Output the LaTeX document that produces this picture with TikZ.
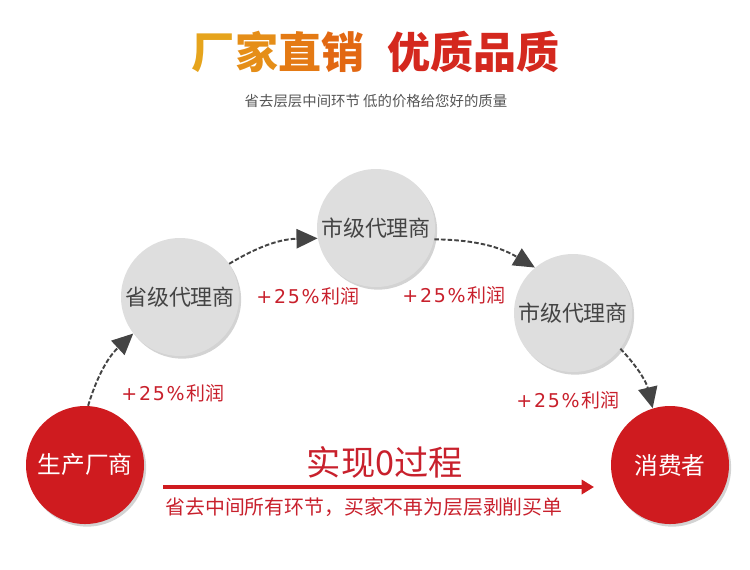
\documentclass[tikz,border=0pt]{standalone}
\usepackage{fontspec}
\setmainfont{Noto Sans CJK SC}
\newfontfamily\profitfont[LetterSpace=9]{DejaVu Sans}
\usepackage{tikz}
\usetikzlibrary{arrows.meta, positioning, shadows}
\definecolor{cRed}{RGB}{207,27,31}
\definecolor{cText}{RGB}{200,32,44}
\definecolor{cGrey}{RGB}{222,222,222}
\definecolor{cDark}{RGB}{68,68,68}
\definecolor{cSub}{RGB}{85,85,85}
\definecolor{cOrA}{RGB}{230,164,28}
\definecolor{cOrB}{RGB}{229,142,24}
\definecolor{cOrC}{RGB}{228,122,20}
\definecolor{cOrD}{RGB}{226,104,18}
\definecolor{cTitle}{RGB}{212,40,30}
\newcommand{\gain}{{\profitfont +25\%\kern0.1em}利润}
\tikzset{
	agent/.style   ={circle, minimum size=118*0.02cm, inner sep=0pt, fill=cGrey, text=cDark, font=\fontsize{12.5}{14}\selectfont, drop shadow={shadow xshift=1.2pt, shadow yshift=-1.5pt, opacity=0.35}},
	endpt/.style   ={circle, minimum size=118*0.02cm, inner sep=0pt, fill=cRed, text=white, font=\fontsize{13.5}{15}\selectfont, drop shadow={shadow xshift=1.2pt, shadow yshift=-1.5pt, opacity=0.35}},
	flowdash/.style={-{Triangle[length=12pt, width=11pt]}, cDark, line width=1.1pt, dash pattern=on 2.6pt off 1.2pt, bend left=15},
	profit/.style  ={text=cText, font=\fontsize{10.8}{12}\selectfont},
	redarrow/.style={-{Triangle[length=7pt, width=8pt]}, cRed, line width=2.2pt},
}
\begin{document}
\begin{tikzpicture}[x=0.02cm, y=-0.02cm]
	\useasboundingbox (0,0) rectangle (750,569);
	% title
	\node[font=\fontsize{24.5}{28}\bfseries] (title) at (376,52) {\textcolor{cOrA}{厂}\textcolor{cOrB}{家}\textcolor{cOrC}{直}\textcolor{cOrD}{销}\hspace{0.55em}\textcolor{cTitle}{优质品质}};
	\node[text=cSub, font=\fontsize{8.2}{10}\selectfont] (sub) at (376,101) {省去层层中间环节 低的价格给您好的质量};
	% chain
	\node[endpt] (maker) at (85,465) {生产厂商};
	\node[agent] (prov) at (180,297) {省级代理商};
	\node[agent] (cityA) at (376,228) {市级代理商};
	\node[agent] (cityB) at (573,313) {市级代理商};
	\node[endpt] (buyer) at (670,465) {消费者};
	\draw[flowdash] (maker.87) to (prov.218);
	\draw[flowdash] (prov.34) to (cityA.190);
	\draw[flowdash] (cityA.349) to (cityB.130);
	\draw[flowdash] (cityB.323) to (buyer.107);
	\node[profit] (pA) at (173,393) {\gain};
	\node[profit] (pB) at (308,296) {\gain};
	\node[profit] (pC) at (454,295) {\gain};
	\node[profit] (pD) at (568,400) {\gain};
	% direct route
	\coordinate (dS) at (163,487);
	\coordinate (dE) at (594,487);
	\draw[redarrow] (dS) -- (dE);
	\node[text=cText, font=\fontsize{19.5}{22}\selectfont] (zero) at (385,462) {实现0过程};
	\node[text=cText, font=\fontsize{11.3}{13}\selectfont] (note) at (364,507) {省去中间所有环节，买家不再为层层剥削买单};
\end{tikzpicture}
\end{document}
